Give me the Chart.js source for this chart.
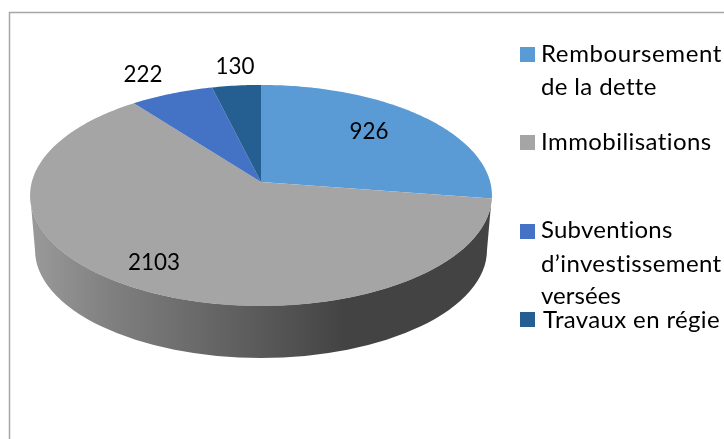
<!DOCTYPE html>
<html lang="fr">
<head>
<meta charset="utf-8">
<style>html,body{margin:0;padding:0;background:#fff}canvas{display:block}</style>
<script src="https://cdn.jsdelivr.net/npm/chart.js@4"></script>
</head>
<body>
<canvas id="c" width="724" height="439"></canvas>
<script>
const categories = ["Remboursement de la dette", "Immobilisations", "Subventions d’investissement versées", "Travaux en régie"];
const values = [926, 2103, 222, 130];
const colors = ["#5b9bd5", "#a5a5a5", "#4472c4", "#255e91"];
const legendLines = [["Remboursement", "de la dette"], ["Immobilisations"], ["Subventions", "d’investissement", "versées"], ["Travaux en régie"]];

// layout only
const legendSwatchY = [47, 135, 224, 312];
const legendBaselines = [[62, 95], [150], [238, 272, 304], [328]];
const legendWidths = [[181, 115], [171], [132, 181, 80], [177]];
const legendTextX = [[541, 541], [541], [541, 541, 541], [543]];
const valueLabelPos = [[369, 139], [154, 270], [143, 82], [235, 74]];
const valueWidth = 13;
const FONT = "Lato, 'Open Sans', sans-serif";

// perspective of the tilted disc
const PERSP = -0.122, SX = 229.2, SY = 108.9;
function project(cx, cy, angle) {
  const u = Math.cos(angle), v = Math.sin(angle), d = 1 + PERSP * v;
  return [cx + SX * u / d, cy + SY * v / d];
}

const ArcProto = Chart.elements.ArcElement.prototype;
ArcProto.draw = function (ctx) {
  const { x, y, startAngle, endAngle } = this.getProps(["x", "y", "startAngle", "endAngle"]);
  ctx.save();
  ctx.beginPath();
  ctx.moveTo(x, y);
  const steps = Math.max(8, Math.ceil((endAngle - startAngle) * 60));
  for (let i = 0; i <= steps; i++) {
    const p = project(x, y, startAngle + (endAngle - startAngle) * i / steps);
    ctx.lineTo(p[0], p[1]);
  }
  ctx.closePath();
  ctx.fillStyle = this.options.backgroundColor;
  ctx.fill();
  ctx.restore();
};

function fitText(ctx, text, x, y, width) {
  ctx.letterSpacing = "0px";
  const natural = ctx.measureText(text).width;
  ctx.letterSpacing = ((width - natural) / text.length).toFixed(3) + "px";
  ctx.fillText(text, x, y);
  ctx.letterSpacing = "0px";
}

const pie3d = {
  id: "pie3d",
  beforeDraw(chart) {
    const ctx = chart.ctx;
    ctx.save();
    ctx.strokeStyle = "#a6a6a6";
    ctx.lineWidth = 1.5;
    ctx.beginPath();
    ctx.moveTo(9.5, 439);
    ctx.lineTo(9.5, 12.5);
    ctx.lineTo(724, 12.5);
    ctx.stroke();
    ctx.restore();
  },
  beforeDatasetsDraw(chart) {
    const ctx = chart.ctx, arc = chart.getDatasetMeta(0).data[0];
    const cx = arc.x, topCy = arc.y + 13.5, topRx = 230.8, topRy = 110.3;
    const botCy = 250, botRx = 226, botRy = 108;
    const g = ctx.createLinearGradient(31, 0, 345, 0);
    g.addColorStop(0, "#9a9a9a");
    g.addColorStop(0.25, "#808080");
    g.addColorStop(0.75, "#585858");
    g.addColorStop(1, "#434343");
    ctx.save();
    ctx.fillStyle = g;
    ctx.beginPath();
    ctx.ellipse(cx, topCy, topRx, topRy, 0, Math.PI, 0, true);
    ctx.lineTo(cx + botRx, botCy);
    ctx.ellipse(cx, botCy, botRx, botRy, 0, 0, Math.PI, false);
    ctx.closePath();
    ctx.fill();
    ctx.restore();
  },
  afterDraw(chart) {
    const ctx = chart.ctx;
    ctx.save();
    ctx.textBaseline = "alphabetic";
    ctx.fillStyle = "#000";
    ctx.font = "24px " + FONT;
    ctx.textAlign = "center";
    values.forEach((v, i) => {
      const t = String(v);
      ctx.fillText(t, valueLabelPos[i][0], valueLabelPos[i][1], t.length * valueWidth);
    });
    ctx.textAlign = "left";
    categories.forEach((c, i) => {
      ctx.fillStyle = colors[i];
      ctx.fillRect(520, legendSwatchY[i], 15, 15);
      ctx.fillStyle = "#000";
      legendLines[i].forEach((line, j) => {
        fitText(ctx, line, legendTextX[i][j], legendBaselines[i][j], legendWidths[i][j]);
      });
    });
    ctx.restore();
  }
};

new Chart(document.getElementById("c"), {
  type: "pie",
  data: { labels: categories, datasets: [{ data: values, backgroundColor: colors, borderWidth: 0 }] },
  options: {
    responsive: false,
    animation: false,
    radius: 231,
    layout: { padding: { left: 0, top: 0, right: 202, bottom: 75 } },
    plugins: { legend: { display: false }, tooltip: { enabled: false }, title: { display: false } }
  },
  plugins: [pie3d]
});
</script>
</body>
</html>
